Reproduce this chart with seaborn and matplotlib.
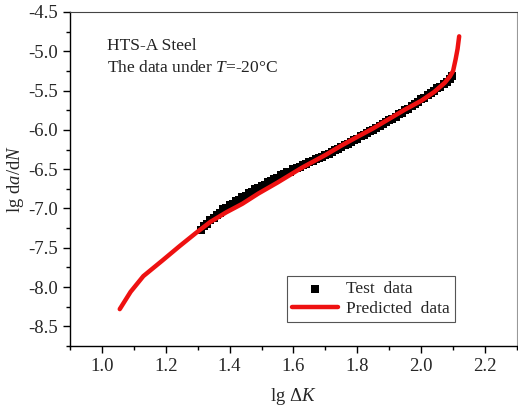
import numpy as np
import pandas as pd
import matplotlib
matplotlib.use("Agg")
import matplotlib.pyplot as plt
import seaborn as sns
from matplotlib.ticker import MultipleLocator

# Test data
test_x = [1.31, 1.32, 1.33, 1.34, 1.35, 1.36, 1.37, 1.38, 1.39, 1.40,
          1.41, 1.42, 1.43, 1.44, 1.45, 1.46, 1.47, 1.48, 1.49, 1.50,
          1.51, 1.52, 1.53, 1.54, 1.55, 1.56, 1.57, 1.58, 1.59, 1.60,
          1.61, 1.62, 1.63, 1.64, 1.65, 1.66, 1.67, 1.68, 1.69, 1.70,
          1.71, 1.72, 1.73, 1.74, 1.75, 1.76, 1.77, 1.78, 1.79, 1.80,
          1.81, 1.82, 1.83, 1.84, 1.85, 1.86, 1.87, 1.88, 1.89, 1.90,
          1.91, 1.92, 1.93, 1.94, 1.95, 1.96, 1.97, 1.98, 1.99, 2.00,
          2.01, 2.02, 2.03, 2.04, 2.05, 2.06, 2.07, 2.08, 2.09, 2.095]
test_y = [-7.27, -7.22, -7.20, -7.14, -7.12, -7.08, -7.06, -7.01, -6.99, -6.95,
          -6.94, -6.90, -6.89, -6.85, -6.84, -6.80, -6.79, -6.75, -6.74, -6.71,
          -6.70, -6.66, -6.65, -6.62, -6.61, -6.58, -6.56, -6.54, -6.53, -6.50,
          -6.49, -6.47, -6.45, -6.44, -6.41, -6.40, -6.37, -6.36, -6.34, -6.32,
          -6.31, -6.28, -6.26, -6.24, -6.22, -6.19, -6.18, -6.15, -6.13, -6.11,
          -6.08, -6.07, -6.04, -6.02, -6.00, -5.97, -5.95, -5.92, -5.90, -5.87,
          -5.86, -5.83, -5.80, -5.78, -5.75, -5.73, -5.69, -5.67, -5.65, -5.61,
          -5.60, -5.56, -5.53, -5.50, -5.47, -5.45, -5.42, -5.39, -5.35, -5.32]

# Predicted data
pred_x = [1.056, 1.09, 1.13, 1.19, 1.243, 1.295, 1.34, 1.389, 1.44, 1.49,
          1.55, 1.627, 1.70, 1.75, 1.804, 1.85, 1.90, 1.95, 2.00, 2.04,
          2.074, 2.09, 2.10, 2.108, 2.114, 2.119]
pred_y = [-8.28, -8.06, -7.86, -7.66, -7.48, -7.31, -7.17, -7.05, -6.94, -6.81,
          -6.67, -6.48, -6.32, -6.20, -6.08, -5.98, -5.86, -5.74, -5.63, -5.52,
          -5.40, -5.32, -5.25, -5.10, -4.97, -4.81]

x_ticks = [1.0, 1.2, 1.4, 1.6, 1.8, 2.0, 2.2]
y_ticks = [-8.5, -8.0, -7.5, -7.0, -6.5, -6.0, -5.5, -5.0, -4.5]

sns.set_style("ticks")
plt.rcParams['font.family'] = ['Liberation Serif', 'DejaVu Serif']
plt.rcParams['mathtext.fontset'] = 'custom'
plt.rcParams['mathtext.rm'] = 'Liberation Serif'
plt.rcParams['mathtext.it'] = 'Liberation Serif:italic'
plt.rcParams['axes.unicode_minus'] = False

fig = plt.figure(figsize=(5.18, 4.12), dpi=100)
ax = fig.add_axes([0.135, 0.160, 0.863, 0.811])

test_df = pd.DataFrame({"x": test_x, "y": test_y})
pred_df = pd.DataFrame({"x": pred_x, "y": pred_y})

sns.scatterplot(data=test_df, x="x", y="y", ax=ax, marker="s", s=30,
                color="black", edgecolor="black", linewidth=0, label="Test  data", zorder=2)
sns.lineplot(data=pred_df, x="x", y="y", ax=ax, sort=False, color="#ee1111",
             linewidth=3.2, label="Predicted  data", zorder=3)

ax.set_xlim(0.9, 2.3)
ax.set_ylim(-8.75, -4.5)
ax.set_xticks(x_ticks)
ax.set_yticks(y_ticks)
ax.set_xticklabels([f"{v:.1f}" for v in x_ticks])
ax.set_yticklabels([f"{v:.1f}" for v in y_ticks])
ax.xaxis.set_minor_locator(MultipleLocator(0.1))
ax.yaxis.set_minor_locator(MultipleLocator(0.25))
ax.tick_params(which="major", direction="out", length=5, width=1.0, labelsize=13.5, color="black")
ax.tick_params(which="minor", direction="out", length=3, width=1.0, color="black")
ax.tick_params(top=False, right=False, which="both")

for s in ["left", "bottom"]:
    ax.spines[s].set_color("black")
    ax.spines[s].set_linewidth(1.0)
ax.spines["top"].set_color("#444444")
ax.spines["right"].set_color("#999999")

ax.set_xlabel(r"lg $\Delta\mathit{K}$", fontsize=13.5, labelpad=8)
ax.set_ylabel(r"lg d$\mathit{a}$/d$\mathit{N}$", fontsize=13.5, labelpad=2)

ax.text(0.083, 0.885, "HTS-A Steel", transform=ax.transAxes, fontsize=12.5, color="#222222")
ax.text(0.083, 0.82, r"The data under $\mathit{T}$=-20°C", transform=ax.transAxes,
        fontsize=12.5, color="#222222")

leg = ax.legend(loc="lower right", bbox_to_anchor=(0.862, 0.072), borderaxespad=0,
                fontsize=12.5, frameon=True, fancybox=False, edgecolor="#555555", framealpha=1,
                handlelength=2.6, borderpad=0.3, labelspacing=0.2, handletextpad=0.5)
leg.get_frame().set_linewidth(0.8)

fig.savefig("out.png", dpi=100)
